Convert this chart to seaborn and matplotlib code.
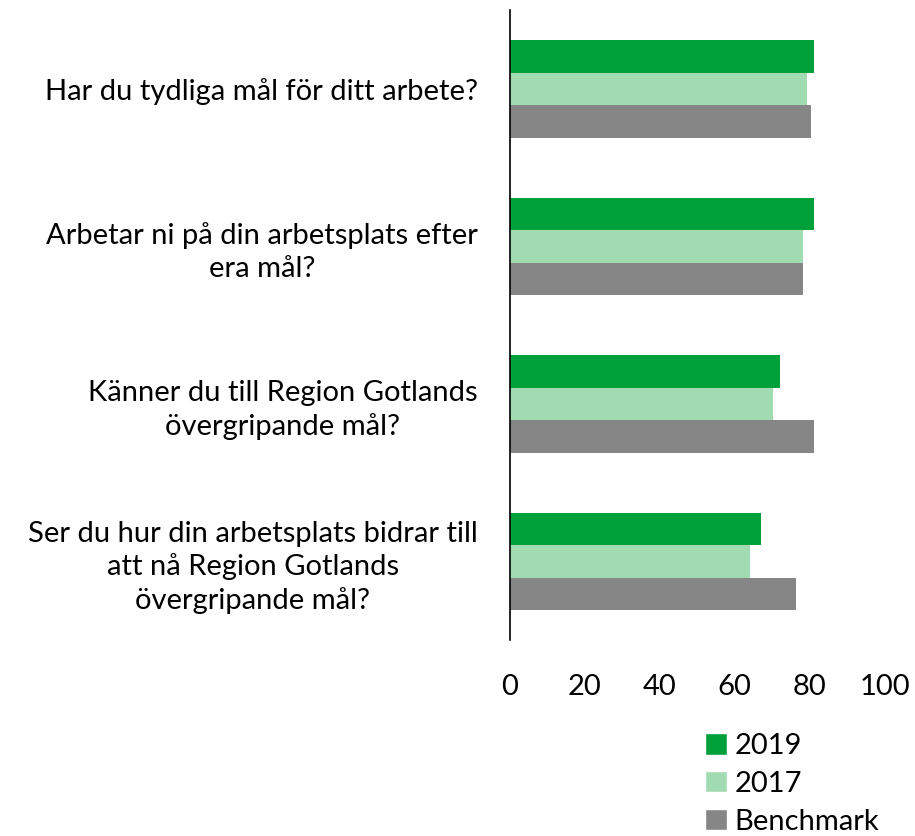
import pandas as pd
import seaborn as sns
import matplotlib.pyplot as plt
from matplotlib.patches import Patch

# Survey questions and values per series
questions = [
    "Har du tydliga mål för ditt arbete?",
    "Arbetar ni på din arbetsplats efter\nera mål?",
    "Känner du till Region Gotlands\növergripande mål?",
    "Ser du hur din arbetsplats bidrar till\natt nå Region Gotlands\növergripande mål?",
]
series = ["2019", "2017", "Benchmark"]
vals_2019 = [81.2, 81.2, 72.1, 67.1]
vals_2017 = [79.2, 78.2, 70.2, 64.1]
vals_bench = [80.2, 78.2, 81.2, 76.2]
colors = ["#00A03A", "#A1DBB2", "#868686"]

df = pd.DataFrame({
    "question": questions * 3,
    "series": [s for s in series for _ in questions],
    "value": vals_2019 + vals_2017 + vals_bench,
})

sns.set_style("white")
plt.rcParams['font.family'] = ['Lato', 'DejaVu Sans']
plt.rcParams['text.color'] = 'black'
plt.rcParams['xtick.color'] = 'black'
plt.rcParams['ytick.color'] = 'black'

fig = plt.figure(figsize=(9.15, 8.36), dpi=100)
ax = fig.add_axes([0.557, 0.234, 0.41, 0.754])

sns.barplot(data=df, y="question", x="value", hue="series", orient="h",
            palette=colors, order=questions, hue_order=series,
            width=0.62, saturation=1, linewidth=0, ax=ax, legend=False)

ax.set_xlim(0, 100)
ax.set_xticks([0, 20, 40, 60, 80, 100])
ax.set_xlabel("")
ax.set_ylabel("")
ax.tick_params(axis="x", labelsize=21, length=0, pad=24)
ax.tick_params(axis="y", labelsize=21, length=0, pad=23)
for lbl in ax.get_yticklabels():
    lbl.set_multialignment("center")
    lbl.set_linespacing(1.3)

for side in ["top", "right", "bottom"]:
    ax.spines[side].set_visible(False)
ax.spines["left"].set_color("black")
ax.spines["left"].set_linewidth(1.2)

handles = [Patch(facecolor=c, label=s) for c, s in zip(colors, series)]
fig.legend(handles=handles, loc="upper left", bbox_to_anchor=(0.771, 0.123),
           frameon=False, fontsize=21, handlelength=0.75, handleheight=0.75,
           handletextpad=0.25, labelspacing=0.40, borderaxespad=0,
           borderpad=0)

plt.savefig("out.png", dpi=100)
